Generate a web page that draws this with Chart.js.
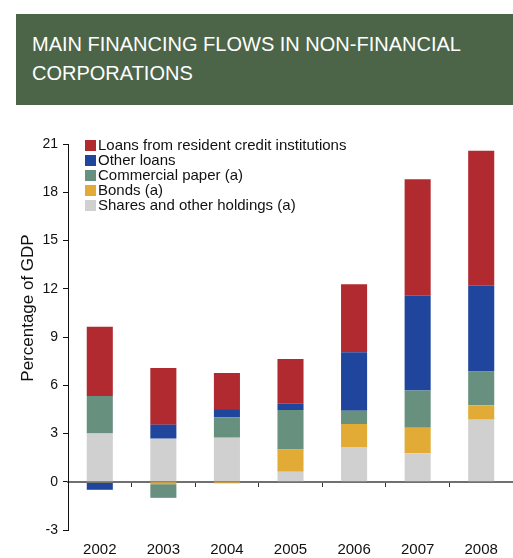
<!DOCTYPE html>
<html>
<head>
<meta charset="utf-8">
<script src="https://cdn.jsdelivr.net/npm/chart.js@4/dist/chart.umd.min.js"></script>
<style>
  html, body { margin: 0; padding: 0; background: #fff; }
  #wrap { position: relative; width: 513px; height: 558px; overflow: hidden; }
  #title {
    position: absolute; left: 16px; top: 14px;
    width: 481px; height: 75px; padding: 16px 0 0 16px;
    background: #4c6549; color: #fff;
    font: 20px/29px "Liberation Sans", Arial, sans-serif;
  }
  canvas { position: absolute; left: 0; top: 0; }
</style>
</head>
<body>
<div id="wrap">
  <canvas id="c" width="513" height="558"></canvas>
  <div id="title">MAIN FINANCING FLOWS IN NON-FINANCIAL<br>CORPORATIONS</div>
</div>
<script>
// Flows as a percentage of GDP
const years = ['2002', '2003', '2004', '2005', '2006', '2007', '2008'];
const loansResident   = [4.31, 3.52, 2.24, 2.76, 4.23, 7.24, 8.39];
const otherLoans      = [-0.45, 0.87, 0.52, 0.41, 3.63, 5.89, 5.31];
const commercialPaper = [2.33, -0.85, 1.26, 2.45, 0.83, 2.32, 2.13];
const bonds           = [-0.05, -0.15, -0.10, 1.39, 1.43, 1.59, 0.89];
const shares          = [3.00, 2.68, 2.74, 0.62, 2.16, 1.77, 3.86];
const yTicks = [-3, 0, 3, 6, 9, 12, 15, 18, 21];

const FONT = '"Liberation Sans", Arial, sans-serif';

// Stacking order, bottom to top
const series = [
  { label: 'Shares and other holdings (a)',          data: shares,          color: '#d0d0d0' },
  { label: 'Bonds (a)',                              data: bonds,           color: '#e2ab35' },
  { label: 'Commercial paper (a)',                   data: commercialPaper, color: '#67907e' },
  { label: 'Other loans',                            data: otherLoans,      color: '#1f459d' },
  { label: 'Loans from resident credit institutions', data: loansResident,  color: '#b02a30' }
];

// Legend box in the upper left of the plot, top series first
const legendPlugin = {
  id: 'cornerLegend',
  afterDatasetsDraw(chart) {
    const ctx = chart.ctx;
    const ds = chart.data.datasets.slice().reverse();
    ctx.save();
    ctx.font = '15px ' + FONT;
    ctx.textBaseline = 'middle';
    ctx.textAlign = 'left';
    ds.forEach((d, i) => {
      const y = 140 + i * 15;
      ctx.fillStyle = d.backgroundColor;
      ctx.fillRect(85, y, 11, 11);
      ctx.fillStyle = '#111';
      ctx.fillText(d.label, 98, y + 6);
    });
    ctx.restore();
  }
};

// Rotated y axis caption
const yCaptionPlugin = {
  id: 'yCaption',
  afterDraw(chart) {
    const ctx = chart.ctx;
    ctx.save();
    ctx.translate(28, 308);
    ctx.rotate(-Math.PI / 2);
    ctx.font = '17px ' + FONT;
    ctx.fillStyle = '#111';
    ctx.textAlign = 'center';
    ctx.textBaseline = 'middle';
    ctx.fillText('Percentage of GDP', 0, 0);
    ctx.restore();
  }
};

new Chart(document.getElementById('c'), {
  type: 'bar',
  data: {
    labels: years,
    datasets: series.map(s => ({
      label: s.label,
      data: s.data,
      backgroundColor: s.color,
      borderWidth: 0,
      xAxisID: 'x',
      yAxisID: 'y',
      barPercentage: 0.41,
      categoryPercentage: 1.0
    }))
  },
  options: {
    responsive: false,
    animation: false,
    layout: { padding: { top: 144, right: 0, left: 0, bottom: 0 } },
    plugins: { legend: { display: false }, tooltip: { enabled: false }, title: { display: false } },
    scales: {
      x: {
        type: 'category',
        stacked: true,
        position: 'bottom',
        grid: { display: false, drawTicks: false },
        border: { display: false },
        ticks: { color: '#111', font: { family: FONT, size: 15 }, padding: 11, maxRotation: 0 },
        afterFit(scale) { scale.height = 28; }
      },
      x0: {
        type: 'category',
        labels: years,
        position: { y: 0 },
        z: 1,
        grid: { display: true, offset: true, drawOnChartArea: false, tickLength: 4, tickColor: '#333', lineWidth: 1 },
        border: { display: true, color: '#707070', width: 2 },
        ticks: { display: false }
      },
      y: {
        stacked: true,
        min: -3,
        max: 21,
        afterBuildTicks(scale) { scale.ticks = yTicks.map(v => ({ value: v })); },
        grid: { display: true, drawOnChartArea: false, tickLength: 5, tickColor: '#111' },
        border: { display: true, color: '#111', width: 1 },
        ticks: { color: '#111', font: { family: FONT, size: 14 }, padding: 5 },
        afterFit(scale) { scale.width = 68; }
      }
    }
  },
  plugins: [legendPlugin, yCaptionPlugin]
});
</script>
</body>
</html>
